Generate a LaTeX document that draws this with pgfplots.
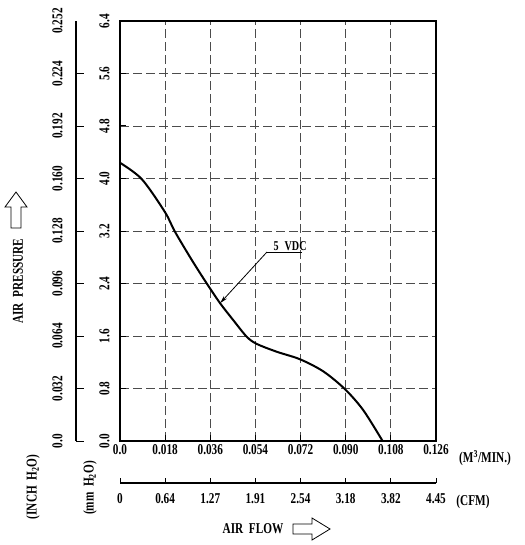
\documentclass[border=0pt]{standalone}
\usepackage{fontspec}
\setmainfont{Liberation Serif}
\newfontfamily\cf[FakeStretch=0.75]{Liberation Serif}
\usepackage{pgfplots}
\pgfplotsset{compat=1.18}
\usetikzlibrary{arrows.meta}
\newcommand\lf{\cf\bfseries\fontsize{15}{17}\selectfont}
\newcommand\smf{\cf\bfseries\fontsize{13.5}{15}\selectfont}
\begin{document}
\begin{tikzpicture}[x=1pt,y=1pt]
\useasboundingbox (0pt,0pt) rectangle (524pt,-545pt);
% main axis (mm H2O vs m3/min)
\begin{axis}[
  at={(120pt,-441pt)}, anchor=south west, scale only axis,
  width=316pt, height=420pt,
  xmin=0, xmax=0.126, ymin=0, ymax=6.4,
  scaled ticks=false,
  xtick={0,0.018,0.036,0.054,0.072,0.090,0.108,0.126},
  xticklabels={0.0,0.018,0.036,0.054,0.072,0.090,0.108,0.126},
  ytick={0,0.8,1.6,2.4,3.2,4.0,4.8,5.6,6.4},
  yticklabels={0.0,0.8,1.6,2.4,3.2,4.0,4.8,5.6,6.4},
  tick align=inside, tick pos=left, major tick length=6pt,
  tick style={black, line width=1pt},
  axis line style={line width=2.2pt},
  grid=major,
  grid style={black!70, line width=0.9pt, dash pattern=on 9pt off 4pt},
  tick label style={font=\lf},
  yticklabel style={rotate=90, anchor=south, yshift=7pt},
  clip=false,
]
\addplot[black, line width=2pt, smooth] coordinates {
  (0,4.24) (0.0087,3.99) (0.0179,3.49)
  (0.0219,3.19) (0.0286,2.76) (0.0346,2.40) (0.0399,2.10) (0.0452,1.84)
  (0.0505,1.59) (0.0545,1.48) (0.0625,1.36) (0.0718,1.245) (0.0811,1.06)
  (0.0897,0.79) (0.0970,0.47) (0.1047,0.0)
};
\draw[line width=0.8pt] (axis cs:0.0726,2.88) -- (axis cs:0.0586,2.88);
\draw[line width=0.8pt, -{Stealth[length=8pt,width=4pt]}] (axis cs:0.0586,2.88) -- (axis cs:0.0399,2.10);
\node[anchor=south, font=\smf, inner sep=1.5pt] at (axis cs:0.0678,2.88) {5\hspace{0.45em}VDC};
\end{axis}
% inch H2O axis
\begin{axis}[
  at={(76pt,-441pt)}, anchor=south west, scale only axis,
  width=20pt, height=420pt,
  xmin=0, xmax=1, ymin=0, ymax=8,
  axis y line*=left, hide x axis,
  ytick={0,...,7},
  yticklabels={0.0,0.032,0.064,0.096,0.128,0.160,0.192,0.224},
  extra y ticks={8}, extra y tick labels={0.252},
  extra y tick style={major tick length=0pt},
  tick align=inside, major tick length=8pt,
  tick style={black, line width=1pt},
  axis line style={line width=2.6pt, -},
  every outer y axis line/.append style={-},
  every inner y axis line/.append style={-},
  tick label style={font=\lf},
  yticklabel style={rotate=90, anchor=south, yshift=10pt},
]
\addplot[draw=none] coordinates {(0,0) (1,8)};
\end{axis}
% CFM axis
\begin{axis}[
  at={(120pt,-483pt)}, anchor=south west, scale only axis,
  width=316pt, height=20pt,
  xmin=0, xmax=7, ymin=0, ymax=1,
  axis x line*=bottom, hide y axis,
  xtick={0,...,7},
  xticklabels={0,0.64,1.27,1.91,2.54,3.18,3.82,4.45},
  tick align=inside, major tick length=5pt,
  tick style={black, line width=1pt},
  axis line style={line width=2.6pt, -},
  every outer x axis line/.append style={-},
  every inner x axis line/.append style={-},
  tick label style={font=\lf},
  xticklabel style={yshift=-7pt},
]
\addplot[draw=none] coordinates {(0,0) (7,1)};
\end{axis}
% texts
\node[font=\lf] at (485pt,-458pt) {(M\textsuperscript{3}/MIN.)};
\node[font=\lf] at (473pt,-502pt) {(CFM)};
\node[font=\lf, rotate=90] at (33pt,-487pt) {(INCH\ \ H\textsubscript{2}O)};
\node[font=\lf, rotate=90] at (90pt,-488pt) {(mm\ \ H\textsubscript{2}O)};
\node[font=\lf, rotate=90] at (18pt,-281pt) {AIR\ \ PRESSURE};
\node[font=\lf] at (253pt,-529pt) {AIR\ \ FLOW};
% hollow arrows
\draw[line width=0.8pt] (293pt,-524pt) -- (312pt,-524pt) -- (312pt,-518pt) -- (330pt,-529pt) -- (312pt,-540pt) -- (312pt,-534pt) -- (293pt,-534pt) -- cycle;
\draw[line width=0.8pt] (11pt,-228pt) -- (11pt,-207pt) -- (5pt,-207pt) -- (16pt,-192pt) -- (27pt,-207pt) -- (21pt,-207pt) -- (21pt,-228pt) -- cycle;
\end{tikzpicture}
\end{document}
